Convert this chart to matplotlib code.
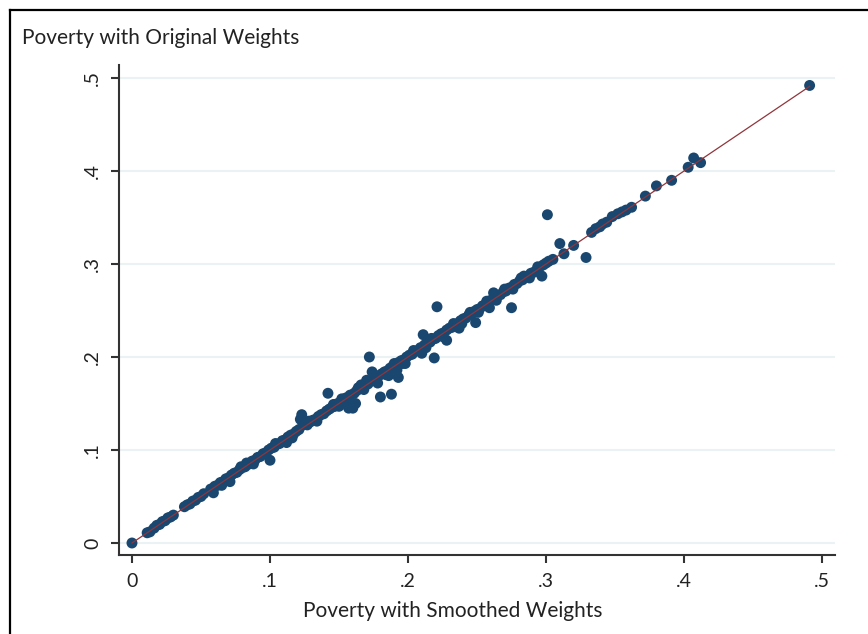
import numpy as np
import matplotlib
matplotlib.use('Agg')
import matplotlib.pyplot as plt
from matplotlib.lines import Line2D

plt.rcParams['font.family'] = ['Lato', 'DejaVu Sans']

# poverty rates: smoothed weights (x) vs original weights (y)
smoothed = [
    0.000,
    0.011, 0.013, 0.016, 0.018, 0.020, 0.022, 0.024, 0.026, 0.028, 0.030,
    0.038, 0.040, 0.042, 0.044, 0.046, 0.048, 0.050, 0.052,
    0.057, 0.059, 0.060, 0.062, 0.064, 0.066, 0.068, 0.070, 0.071, 0.072,
    0.074, 0.076, 0.078, 0.080, 0.082, 0.083, 0.085, 0.087, 0.089, 0.091,
    0.093, 0.095, 0.097, 0.099, 0.100, 0.101, 0.103, 0.105, 0.107, 0.109,
    0.111, 0.112, 0.113, 0.115, 0.117, 0.119, 0.121, 0.122, 0.123, 0.124,
    0.126, 0.127, 0.129, 0.131, 0.133, 0.135, 0.137, 0.139, 0.141, 0.142,
    0.143, 0.145, 0.147, 0.149, 0.151, 0.152, 0.153, 0.155, 0.156, 0.157,
    0.158, 0.159, 0.160, 0.161, 0.162, 0.163, 0.165, 0.166, 0.167, 0.169,
    0.170, 0.171, 0.172, 0.173, 0.174, 0.175, 0.177, 0.178, 0.179, 0.180,
    0.181, 0.183, 0.185, 0.186, 0.187, 0.188, 0.189, 0.191, 0.192, 0.193,
    0.193, 0.195, 0.197, 0.198, 0.199, 0.201, 0.203, 0.205, 0.207, 0.209,
    0.210, 0.211, 0.212, 0.214, 0.216, 0.218, 0.219, 0.220, 0.221, 0.222,
    0.224, 0.226, 0.228, 0.228, 0.230, 0.232, 0.234, 0.236, 0.237, 0.238,
    0.240, 0.242, 0.244, 0.246, 0.248, 0.249, 0.250, 0.252, 0.254, 0.256,
    0.258, 0.259, 0.260, 0.262, 0.263, 0.265, 0.267, 0.269, 0.271, 0.273,
    0.275, 0.275, 0.277, 0.279, 0.281, 0.283, 0.284, 0.285, 0.287, 0.289,
    0.291, 0.293, 0.295, 0.297, 0.298, 0.300, 0.301, 0.302, 0.305,
    0.310, 0.313, 0.320, 0.329, 0.333, 0.336, 0.339, 0.341, 0.344, 0.348,
    0.352, 0.355, 0.358, 0.362, 0.372, 0.380, 0.391, 0.403, 0.407, 0.412,
    0.491,
    # extra points thickening the band
    0.065, 0.079, 0.088, 0.104, 0.116, 0.128, 0.134, 0.146, 0.150, 0.164,
    0.168, 0.176, 0.184, 0.190, 0.196, 0.204, 0.213, 0.217, 0.225, 0.233,
    0.239, 0.245, 0.251, 0.257, 0.264, 0.270, 0.276, 0.282, 0.288, 0.294,
]
original = [
    0.000,
    0.011, 0.012, 0.016, 0.019, 0.020, 0.023, 0.024, 0.027, 0.028, 0.030,
    0.039, 0.041, 0.042, 0.045, 0.046, 0.049, 0.050, 0.053,
    0.058, 0.054, 0.061, 0.062, 0.065, 0.066, 0.069, 0.070, 0.066, 0.073,
    0.075, 0.076, 0.079, 0.081, 0.082, 0.086, 0.085, 0.088, 0.089, 0.092,
    0.093, 0.096, 0.097, 0.100, 0.089, 0.102, 0.103, 0.106, 0.107, 0.110,
    0.111, 0.108, 0.114, 0.116, 0.117, 0.120, 0.122, 0.133, 0.138, 0.127,
    0.130, 0.127, 0.130, 0.132, 0.133, 0.136, 0.138, 0.139, 0.142, 0.161,
    0.144, 0.146, 0.147, 0.150, 0.151, 0.155, 0.153, 0.156, 0.150, 0.145,
    0.159, 0.147, 0.145, 0.161, 0.150, 0.164, 0.166, 0.170, 0.167, 0.170,
    0.175, 0.171, 0.200, 0.174, 0.184, 0.176, 0.178, 0.172, 0.180, 0.157,
    0.182, 0.184, 0.185, 0.180, 0.188, 0.160, 0.190, 0.192, 0.186, 0.194,
    0.178, 0.196, 0.197, 0.193, 0.200, 0.202, 0.203, 0.206, 0.207, 0.210,
    0.204, 0.224, 0.213, 0.215, 0.216, 0.219, 0.199, 0.220, 0.254, 0.223,
    0.225, 0.226, 0.218, 0.229, 0.231, 0.232, 0.235, 0.236, 0.231, 0.239,
    0.241, 0.242, 0.245, 0.246, 0.249, 0.237, 0.251, 0.252, 0.255, 0.256,
    0.259, 0.253, 0.261, 0.269, 0.262, 0.266, 0.267, 0.270, 0.271, 0.274,
    0.253, 0.275, 0.278, 0.279, 0.282, 0.283, 0.287, 0.286, 0.287, 0.290,
    0.291, 0.293, 0.296, 0.287, 0.299, 0.301, 0.353, 0.303, 0.305,
    0.322, 0.311, 0.320, 0.307, 0.334, 0.338, 0.340, 0.343, 0.345, 0.351,
    0.354, 0.356, 0.358, 0.361, 0.373, 0.384, 0.390, 0.404, 0.414, 0.409,
    0.492,
    0.062, 0.082, 0.085, 0.107, 0.113, 0.131, 0.131, 0.149, 0.147, 0.167,
    0.165, 0.179, 0.181, 0.193, 0.193, 0.207, 0.210, 0.220, 0.222, 0.236,
    0.236, 0.248, 0.248, 0.260, 0.261, 0.273, 0.273, 0.285, 0.285, 0.297,
]
ticks = [0, 0.1, 0.2, 0.3, 0.4, 0.5]
tick_labels = ['0', '.1', '.2', '.3', '.4', '.5']

x = np.array(smoothed)
y = np.array(original)

fig = plt.figure(figsize=(8.68, 6.34), dpi=100)
ax = fig.add_axes([0.1371, 0.1246, 0.8249, 0.7729])

ax.scatter(x, y, s=62, color='#1a476f', edgecolors='none', zorder=3)
line_x = np.array([x.min(), x.max()])
ax.plot(line_x, line_x, color='#90353b', lw=0.9, zorder=4)

ax.set_xlim(-0.0094, 0.5094)
ax.set_ylim(-0.0129, 0.514)
ax.set_xticks(ticks)
ax.set_xticklabels(tick_labels)
ax.set_yticks(ticks)
ax.set_yticklabels(tick_labels, rotation=90, va='center')
ax.grid(axis='y', color='#eaf2f3', lw=1.5, zorder=0)
ax.set_axisbelow(True)

for s in ['top', 'right']:
    ax.spines[s].set_visible(False)
for s in ['left', 'bottom']:
    ax.spines[s].set_color('#333333')
    ax.spines[s].set_linewidth(1.5)
ax.tick_params(direction='out', length=6, width=1.5, color='#333333',
               labelsize=14, labelcolor='#222222', pad=7)

ax.set_xlabel('Poverty with Smoothed Weights', fontsize=15, color='#222222')
ax.xaxis.set_label_coords(0.4665, -0.094)
fig.text(22 / 868, 1 - 38 / 634, 'Poverty with Original Weights', fontsize=15,
         color='#222222', ha='left', va='center')

# outer frame (top and left edges visible)
fig.add_artist(Line2D([10 / 868, 1.0], [1 - 10 / 634, 1 - 10 / 634], color='black', lw=1.6))
fig.add_artist(Line2D([10 / 868, 10 / 868], [0.0, 1 - 10 / 634], color='black', lw=1.6))

fig.savefig('out.png', dpi=100)
